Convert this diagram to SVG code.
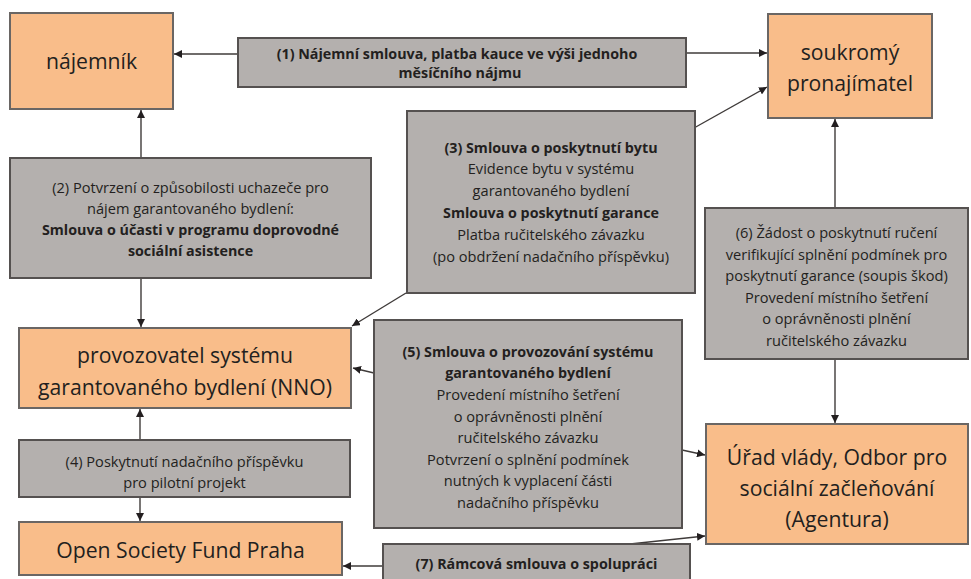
<svg xmlns="http://www.w3.org/2000/svg" width="971" height="579" viewBox="0 0 971 579">
<defs>
<style>
.org{fill:#F9BD8A;stroke:#6a6664;stroke-width:2}
.gry{fill:#B4B0AE;stroke:#555150;stroke-width:2}
.t1{font-family:"Open Sans","Noto Sans",sans-serif;font-size:21.2px;fill:#231f20;text-anchor:middle;dominant-baseline:central}
.t2{font-family:"Open Sans","Noto Sans",sans-serif;font-size:14.6px;fill:#231f20;text-anchor:middle;dominant-baseline:central}
.b{font-weight:bold;font-size:14.3px}
.ln{stroke:#3f3b3a;stroke-width:1.4;fill:none;marker-end:url(#ah)}
</style>
<marker id="ah" viewBox="0 0 10 10" refX="10" refY="5" markerWidth="8" markerHeight="8" markerUnits="userSpaceOnUse" orient="auto">
<path d="M0,0 L10,5 L0,10 z" fill="#231f20"/>
</marker>
</defs>
<rect width="971" height="579" fill="#ffffff"/>
<g id="connectors">
<line class="ln" x1="238" y1="54" x2="174" y2="54"/>
<line class="ln" x1="686" y1="53" x2="767" y2="53"/>
<line class="ln" x1="694" y1="128" x2="767" y2="87"/>
<line class="ln" x1="141" y1="158" x2="141" y2="110"/>
<line class="ln" x1="141" y1="278" x2="141" y2="327"/>
<line class="ln" x1="406" y1="293" x2="352" y2="326"/>
<line class="ln" x1="374" y1="373" x2="353" y2="368"/>
<line class="ln" x1="140" y1="440" x2="140" y2="409"/>
<line class="ln" x1="140" y1="497" x2="140" y2="521"/>
<line class="ln" x1="835" y1="208" x2="835" y2="119"/>
<line class="ln" x1="835" y1="359" x2="835" y2="423"/>
<line class="ln" x1="682" y1="450" x2="705" y2="455"/>
<line class="ln" x1="383" y1="566" x2="343" y2="566"/>
<line class="ln" x1="630" y1="544" x2="705" y2="536"/>
</g>
<g id="najemnik">
<rect class="org" x="10" y="13" width="163" height="96"/>
<text class="t1" x="91.5" y="60">nájemník</text>
</g>
<g id="pronajimatel">
<rect class="org" x="768" y="14" width="164" height="104"/>
<text class="t1" x="850" y="51">soukromý</text>
<text class="t1" x="850" y="82">pronajímatel</text>
</g>
<g id="provozovatel">
<rect class="org" x="19" y="328" width="332" height="80"/>
<text class="t1" x="185" y="354">provozovatel systému</text>
<text class="t1" x="185" y="386">garantovaného bydlení (NNO)</text>
</g>
<g id="osf">
<rect class="org" x="19" y="522" width="323" height="53"/>
<text class="t1" x="180.5" y="549">Open Society Fund Praha</text>
</g>
<g id="urad">
<rect class="org" x="706" y="424" width="262" height="120"/>
<text class="t1" x="837" y="456">Úřad vlády, Odbor pro</text>
<text class="t1" x="837" y="487">sociální začleňování</text>
<text class="t1" x="837" y="518">(Agentura)</text>
</g>
<g id="box1">
<rect class="gry" x="238" y="38" width="448" height="49"/>
<text class="t2 b" x="457" y="53">(1) Nájemní smlouva, platba kauce ve výši jednoho</text>
<text class="t2 b" x="460" y="72">měsíčního nájmu</text>
</g>
<g id="box2">
<rect class="gry" x="10" y="158" width="361" height="120"/>
<text class="t2" x="190.5" y="187">(2) Potvrzení o způsobilosti uchazeče pro</text>
<text class="t2" x="190.5" y="208">nájem garantovaného bydlení:</text>
<text class="t2 b" x="190.5" y="229">Smlouva o účasti v programu doprovodné</text>
<text class="t2 b" x="190.5" y="250">sociální asistence</text>
</g>
<g id="box3">
<rect class="gry" x="407" y="111" width="288" height="182"/>
<text class="t2 b" x="551" y="147">(3) Smlouva o poskytnutí bytu</text>
<text class="t2" x="551" y="168">Evidence bytu v systému</text>
<text class="t2" x="551" y="190">garantovaného bydlení</text>
<text class="t2 b" x="551" y="212">Smlouva o poskytnutí garance</text>
<text class="t2" x="551" y="234">Platba ručitelského závazku</text>
<text class="t2" x="551" y="256">(po obdržení nadačního příspěvku)</text>
</g>
<g id="box4">
<rect class="gry" x="19" y="440" width="331" height="57"/>
<text class="t2" x="184.5" y="461">(4) Poskytnutí nadačního příspěvku</text>
<text class="t2" x="184.5" y="482">pro pilotní projekt</text>
</g>
<g id="box5">
<rect class="gry" x="374" y="320" width="308" height="208"/>
<text class="t2 b" x="528" y="351">(5) Smlouva o provozování systému</text>
<text class="t2 b" x="528" y="372.5">garantovaného bydlení</text>
<text class="t2" x="528" y="394">Provedení místního šetření</text>
<text class="t2" x="528" y="415.5">o oprávněnosti plnění</text>
<text class="t2" x="528" y="437">ručitelského závazku</text>
<text class="t2" x="528" y="458.5">Potvrzení o splnění podmínek</text>
<text class="t2" x="528" y="480">nutných k vyplacení části</text>
<text class="t2" x="528" y="501.5">nadačního příspěvku</text>
</g>
<g id="box6">
<rect class="gry" x="705" y="208" width="263" height="151"/>
<text class="t2" x="836.5" y="232">(6) Žádost o poskytnutí ručení</text>
<text class="t2" x="836.5" y="253.5">verifikující splnění podmínek pro</text>
<text class="t2" x="836.5" y="275">poskytnutí garance (soupis škod)</text>
<text class="t2" x="836.5" y="296.5">Provedení místního šetření</text>
<text class="t2" x="836.5" y="318">o oprávněnosti plnění</text>
<text class="t2" x="836.5" y="339.5">ručitelského závazku</text>
</g>
<g id="box7">
<rect class="gry" x="383" y="544" width="307" height="40"/>
<text class="t2 b" x="536.5" y="563">(7) Rámcová smlouva o spolupráci</text>
</g>
</svg>
